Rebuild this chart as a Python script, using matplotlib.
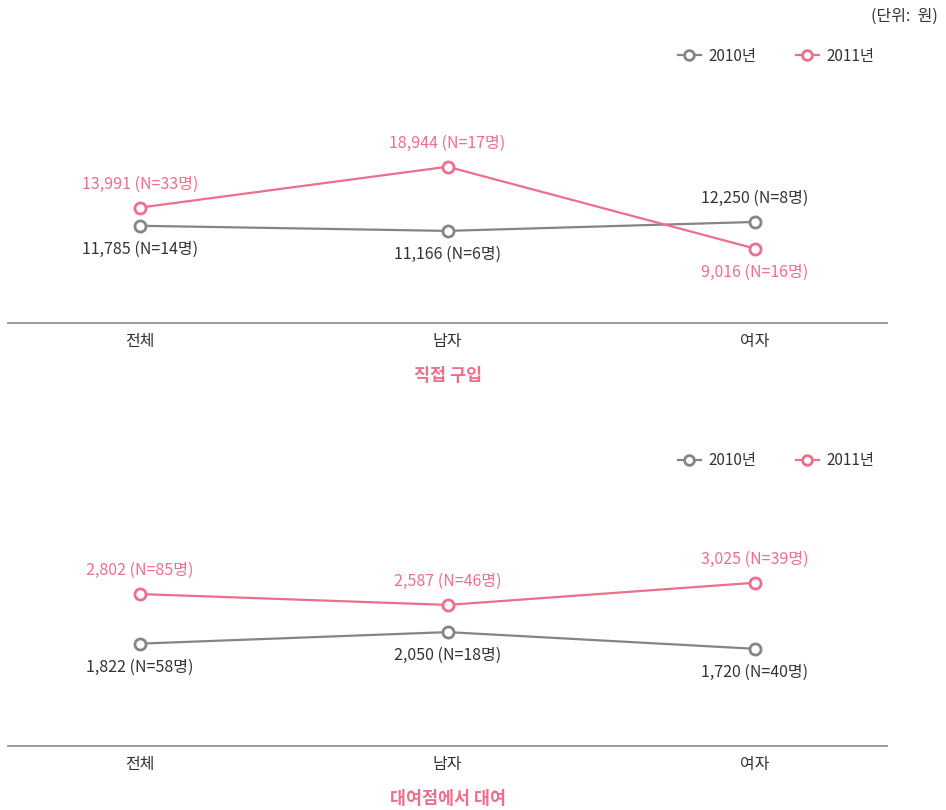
import matplotlib
matplotlib.use("Agg")
import matplotlib.pyplot as plt
from matplotlib.lines import Line2D

plt.rcParams['font.family'] = ['Noto Sans CJK KR', 'DejaVu Sans']

categories = ['전체', '남자', '여자']

# 직접 구입
buy_2010 = [11785, 11166, 12250]
buy_2010_n = [14, 6, 8]
buy_2011 = [13991, 18944, 9016]
buy_2011_n = [33, 17, 16]

# 대여점에서 대여
rent_2010 = [1822, 2050, 1720]
rent_2010_n = [58, 18, 40]
rent_2011 = [2802, 2587, 3025]
rent_2011_n = [85, 46, 39]

series_names = ['2010년', '2011년']
titles = ['직접 구입', '대여점에서 대여']

GRAY = '#858585'
PINK = '#EC6F8C'
TXT = '#333333'

W, H = 946, 810
fig = plt.figure(figsize=(W / 100, H / 100), dpi=100)


def px_ax(left, bottom, right, top):
    return fig.add_axes([left / W, 1 - bottom / H, (right - left) / W, (bottom - top) / H])


def draw_panel(ax, v10, n10, v11, n11, ylim, pos10, pos11, title):
    x = range(len(categories))
    ax.plot(x, v10, color=GRAY, lw=1.6, marker='o', ms=8, mfc='white',
            mec=GRAY, mew=2, zorder=3)
    ax.plot(x, v11, color=PINK, lw=1.6, marker='o', ms=8, mfc='white',
            mec=PINK, mew=2, zorder=3)
    for i in x:
        ax.annotate(f"{v10[i]:,} (N={n10[i]}명)", (i, v10[i]),
                    xytext=(0, 17 * pos10[i]), textcoords='offset points',
                    ha='center', va='center', fontsize=11.5, color=TXT)
        ax.annotate(f"{v11[i]:,} (N={n11[i]}명)", (i, v11[i]),
                    xytext=(0, 17 * pos11[i]), textcoords='offset points',
                    ha='center', va='center', fontsize=11.5, color=PINK)
    ax.set_xlim(-0.429, 2.429)
    ax.set_ylim(*ylim)
    ax.set_xticks(list(x))
    ax.set_xticklabels(categories, fontsize=11.5, color=TXT)
    ax.tick_params(axis='x', length=0, pad=7)
    ax.set_yticks([])
    for s in ['top', 'left', 'right']:
        ax.spines[s].set_visible(False)
    ax.spines['bottom'].set_color('#9a9a9a')
    ax.spines['bottom'].set_linewidth(1.4)
    ax.set_facecolor('none')
    ax.text(0.5, -0.215, title, transform=ax.transAxes, ha='center', va='center',
            fontsize=12.5, fontweight='bold', color=PINK)


ax1 = px_ax(8, 323, 887, 78)
draw_panel(ax1, buy_2010, buy_2010_n, buy_2011, buy_2011_n, (0, 29700),
           [-1, -1, 1], [1, 1, -1], titles[0])

ax2 = px_ax(8, 746, 887, 501)
draw_panel(ax2, rent_2010, rent_2010_n, rent_2011, rent_2011_n, (-200, 4640),
           [-1, -1, -1], [1, 1, 1], titles[1])

handles = [Line2D([], [], color=GRAY, lw=1.6, marker='o', ms=7, mfc='white', mec=GRAY, mew=2),
           Line2D([], [], color=PINK, lw=1.6, marker='o', ms=7, mfc='white', mec=PINK, mew=2)]
for ly in [56, 461]:
    fig.legend(handles, series_names, ncol=2, frameon=False, fontsize=11,
               loc='center right', bbox_to_anchor=(888 / W, 1 - ly / H),
               handlelength=1.5, handletextpad=0.5, columnspacing=2.6,
               labelcolor=TXT)

fig.text(938 / W, 1 - 16 / H, '(단위:  원)', ha='right', va='center',
         fontsize=11.5, color=TXT)

fig.savefig('out.png', dpi=100)
